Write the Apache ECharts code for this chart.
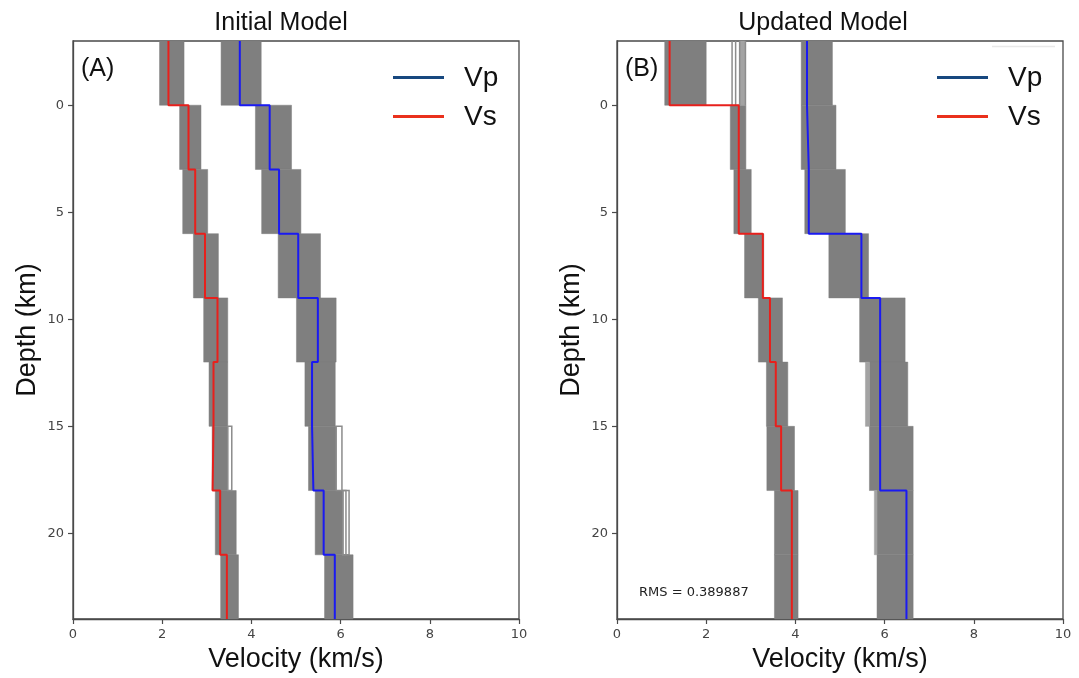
<!DOCTYPE html>
<html>
<head>
<meta charset="utf-8">
<script src="https://cdn.jsdelivr.net/npm/echarts@6/dist/echarts.min.js"></script>
<style>
  html, body { margin: 0; padding: 0; background: #fff; }
  #chart { width: 1079px; height: 678px; }
</style>
</head>
<body>
<div id="chart"></div>
<script>
// Layer boundaries (km) shared by every velocity profile
const depthEdges = [-3, 0, 3, 6, 9, 12, 15, 18, 21, 24];
const depthTicks = [0, 5, 10, 15, 20];
const velocityTicks = [0, 2, 4, 6, 8, 10];

// Initial model: best profile per layer (km/s)
const vsInitial = [2.14, 2.59, 2.74, 2.96, 3.24, 3.15, 3.13, 3.30, 3.45];
const vpInitial = [3.74, 4.41, 4.62, 5.05, 5.49, 5.36, 5.39, 5.62, 5.87];
// Initial model: spread of the ensemble per layer
const vsInitialMin = [1.94, 2.39, 2.46, 2.70, 2.93, 3.05, 3.12, 3.19, 3.31];
const vsInitialMax = [2.49, 2.87, 3.02, 3.26, 3.47, 3.47, 3.47, 3.66, 3.71];
const vpInitialMin = [3.32, 4.09, 4.23, 4.60, 5.01, 5.20, 5.28, 5.43, 5.64];
const vpInitialMax = [4.22, 4.90, 5.11, 5.55, 5.90, 5.88, 5.90, 6.05, 6.28];
// Initial model: isolated ensemble members [layer, from, to]
const initialOutliers = [[6, 3.47, 3.56], [6, 5.90, 6.03], [7, 6.05, 6.12], [7, 6.05, 6.19]];
const initialFaint = [];

// Updated model: best profile per layer (km/s)
const vsUpdated = [1.18, 2.73, 2.73, 3.27, 3.43, 3.56, 3.68, 3.92, 3.92];
const vpUpdated = [4.26, 4.30, 4.30, 5.48, 5.90, 5.90, 5.90, 6.49, 6.49];
// Updated model: spread of the ensemble per layer
const vsUpdatedMin = [1.07, 2.54, 2.62, 2.86, 3.17, 3.35, 3.36, 3.53, 3.53];
const vsUpdatedMax = [2.00, 2.89, 3.01, 3.29, 3.71, 3.83, 3.98, 4.06, 4.06];
const vpUpdatedMin = [4.13, 4.13, 4.21, 4.75, 5.44, 5.66, 5.66, 5.83, 5.83];
const vpUpdatedMax = [4.83, 4.91, 5.12, 5.64, 6.46, 6.52, 6.64, 6.64, 6.64];
// Updated model: isolated members and lighter fringes [layer, from, to]
const updatedOutliers = [[0, 2.58, 2.58], [0, 2.66, 2.66], [0, 2.75, 2.75], [0, 2.88, 2.88]];
const updatedFaint = [[0, 2.75, 2.88], [5, 5.57, 5.66], [7, 5.77, 5.83]];

const rmsText = 'RMS = 0.389887';

const BAND = '#7f7f7f';
const FAINT = '#a3a3a3';
const RED = '#e8201c';
const BLUE = '#1a1af2';
const AXIS = '#4a4a4a';

const chart = echarts.init(document.getElementById('chart'), null, { renderer: 'canvas' });

function stepPath(values) {
  const pts = [];
  values.forEach((v, i) => {
    pts.push([v, depthEdges[i]]);
    pts.push([v, depthEdges[i + 1]]);
  });
  return pts;
}

function bandRows(mins, maxs) {
  return mins.map((lo, i) => [i, lo, maxs[i]]);
}

function clipTo(params, shape) {
  const cs = params.coordSys;
  return echarts.graphic.clipRectByRect(shape, { x: cs.x, y: cs.y, width: cs.width, height: cs.height });
}

function rectSeries(idx, rows, style, z) {
  return {
    type: 'custom',
    xAxisIndex: idx, yAxisIndex: idx,
    z: z,
    silent: true,
    data: rows,
    renderItem: function (params, api) {
      const layer = api.value(0);
      const p0 = api.coord([api.value(1), depthEdges[layer]]);
      const p1 = api.coord([api.value(2), depthEdges[layer + 1]]);
      const shape = clipTo(params, {
        x: Math.min(p0[0], p1[0]),
        y: Math.min(p0[1], p1[1]),
        width: Math.abs(p1[0] - p0[0]),
        height: Math.abs(p1[1] - p0[1])
      });
      if (!shape) return null;
      return { type: 'rect', shape: shape, style: style };
    }
  };
}

function lineSeries(idx, name, values, color) {
  return {
    type: 'line', name: name,
    xAxisIndex: idx, yAxisIndex: idx,
    data: stepPath(values),
    showSymbol: false, symbol: 'none',
    clip: true, z: 10, silent: true,
    lineStyle: { color: color, width: 2 },
    itemStyle: { color: color }
  };
}

const panels = [
  { left: 73, title: 'Initial Model', titleX: 276, tag: '(A)',
    vs: vsInitial, vp: vpInitial,
    bands: bandRows(vsInitialMin, vsInitialMax).concat(bandRows(vpInitialMin, vpInitialMax)),
    faint: initialFaint, outliers: initialOutliers },
  { left: 617, title: 'Updated Model', titleX: 818, tag: '(B)',
    vs: vsUpdated, vp: vpUpdated,
    bands: bandRows(vsUpdatedMin, vsUpdatedMax).concat(bandRows(vpUpdatedMin, vpUpdatedMax)),
    faint: updatedFaint, outliers: updatedOutliers }
];

const gridW = 446;
const grids = panels.map(p => ({
  left: p.left, top: 41, width: gridW, bottom: 58,
  show: true, borderColor: AXIS, borderWidth: 1.3, backgroundColor: '#fff'
}));

const xAxes = panels.map((p, i) => ({
  type: 'value', gridIndex: i, min: 0, max: 10, interval: 2,
  name: 'Velocity (km/s)', nameLocation: 'middle', nameGap: 27,
  nameTextStyle: { fontFamily: 'Liberation Sans, Arial, sans-serif', fontSize: 27, color: '#111', verticalAlign: 'top' },
  axisLine: { show: true, onZero: false, lineStyle: { color: AXIS, width: 1.3 } },
  axisTick: { show: true, length: 5, lineStyle: { color: AXIS, width: 1.2 } },
  axisLabel: { fontFamily: 'DejaVu Sans, sans-serif', fontSize: 13, color: '#444', margin: 9,
               customValues: velocityTicks },
  splitLine: { show: false }
}));

const yAxes = panels.map((p, i) => ({
  type: 'value', gridIndex: i, min: -3, max: 24, inverse: true,
  name: 'Depth (km)', nameLocation: 'middle', nameGap: 32, nameRotate: 90,
  nameTextStyle: { fontFamily: 'Liberation Sans, Arial, sans-serif', fontSize: 27, color: '#111' },
  axisLine: { show: true, onZero: false, lineStyle: { color: AXIS, width: 1.3 } },
  axisTick: { show: true, length: 5, customValues: depthTicks, lineStyle: { color: AXIS, width: 1.2 } },
  axisLabel: { fontFamily: 'DejaVu Sans, sans-serif', fontSize: 13, color: '#444', margin: 9,
               customValues: depthTicks },
  splitLine: { show: false }
}));

const series = [];
panels.forEach((p, i) => {
  series.push(rectSeries(i, p.bands, { fill: BAND, stroke: BAND, lineWidth: 0.5 }, 1));
  series.push(rectSeries(i, p.faint, { fill: FAINT, stroke: FAINT, lineWidth: 0.5 }, 2));
  series.push(rectSeries(i, p.outliers, { fill: 'none', stroke: '#8c8c8c', lineWidth: 1.5 }, 3));
  series.push(lineSeries(i, 'Vs', p.vs, RED));
  series.push(lineSeries(i, 'Vp', p.vp, BLUE));
});

const titles = panels.map(p => ({
  text: p.title, left: p.titleX, top: 6, textAlign: 'center',
  textStyle: { fontFamily: 'Liberation Sans, Arial, sans-serif', fontSize: 25, fontWeight: 'normal', color: '#111' }
}));

// Legend keys, panel tags and the misfit note
const graphics = [];
panels.forEach((p, i) => {
  const lx = p.left + 320;
  graphics.push({ type: 'line', shape: { x1: lx, y1: 77.5, x2: lx + 51, y2: 77.5 }, style: { stroke: '#17487f', lineWidth: 3 }, z: 20 });
  graphics.push({ type: 'line', shape: { x1: lx, y1: 116.5, x2: lx + 51, y2: 116.5 }, style: { stroke: '#ea311c', lineWidth: 3 }, z: 20 });
  graphics.push({ type: 'text', x: lx + 71, y: 78, style: { text: 'Vp', fontFamily: 'Liberation Sans, Arial, sans-serif', fontSize: 28, fill: '#111', verticalAlign: 'middle' }, z: 20 });
  graphics.push({ type: 'text', x: lx + 71, y: 117, style: { text: 'Vs', fontFamily: 'Liberation Sans, Arial, sans-serif', fontSize: 28, fill: '#111', verticalAlign: 'middle' }, z: 20 });
  graphics.push({ type: 'text', x: p.left + 8, y: 69, style: { text: p.tag, fontFamily: 'Liberation Sans, Arial, sans-serif', fontSize: 25, fill: '#111', verticalAlign: 'middle' }, z: 20 });
});
graphics.push({ type: 'text', x: 639, y: 593, style: { text: rmsText, fontFamily: 'DejaVu Sans, sans-serif', fontSize: 13, fill: '#222', verticalAlign: 'middle' }, z: 20 });
graphics.push({ type: 'line', shape: { x1: 992, y1: 46.5, x2: 1055, y2: 46.5 }, style: { stroke: '#e8e8e8', lineWidth: 1.5 }, z: 20 });

chart.setOption({
  backgroundColor: '#fff',
  animation: false,
  title: titles,
  grid: grids,
  xAxis: xAxes,
  yAxis: yAxes,
  series: series,
  graphic: graphics
});
</script>
</body>
</html>
